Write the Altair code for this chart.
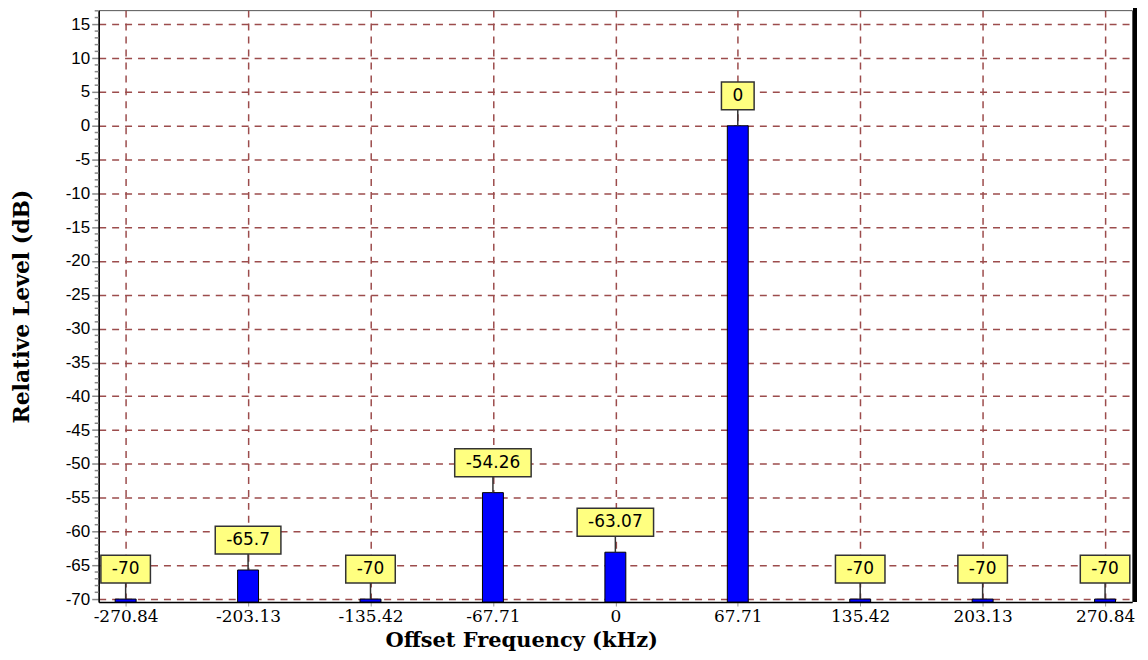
import altair as alt
import pandas as pd

# ---- data ----
freqs = [-270.84, -203.13, -135.42, -67.71, 0, 67.71, 135.42, 203.13, 270.84]
levels = [-70, -65.7, -70, -54.26, -63.07, 0, -70, -70, -70]
labels = ["-70", "-65.7", "-70", "-54.26", "-63.07", "0", "-70", "-70", "-70"]
y_ticks = list(range(-70, 16, 5))
y_minor = [v for v in range(-70, 18) if v % 5 != 0]

X_DOMAIN = [-283, 283]
Y_DOMAIN = [-70.44, 17.1]
W, H = 1037, 594

df = pd.DataFrame({"freq": freqs, "level": levels, "label": labels})
minor_df = pd.DataFrame({"level": y_minor})

GRID = "#9c4c4c"
SERIF = "DejaVu Serif"

x_scale = alt.Scale(domain=X_DOMAIN, nice=False, zero=False)
y_scale = alt.Scale(domain=Y_DOMAIN, nice=False, zero=False)

x_enc = alt.X(
    "freq:Q",
    scale=x_scale,
    axis=alt.Axis(
        values=freqs,
        labelExpr="toString(datum.value)",
        title="Offset Frequency (kHz)",
        titleFont=SERIF, titleFontSize=21, titleFontWeight="bold", titleColor="black",
        titleX=424, titleY=39, titleAlign="center", titleBaseline="middle",
        labelFont=SERIF, labelFontSize=17, labelColor="black", labelPadding=3,
        tickSize=4, tickColor="#999", domainColor="black", domainWidth=1.5,
        grid=True, gridColor=GRID, gridDash=[7, 6], gridWidth=1.5,
        labelFlush=False, labelOverlap=False,
    ),
)
y_enc = alt.Y(
    "level:Q",
    scale=y_scale,
    axis=alt.Axis(
        values=y_ticks,
        labelExpr="toString(datum.value)",
        title="Relative Level (dB)",
        titleFont=SERIF, titleFontSize=22, titleFontWeight="bold", titleColor="black",
        titleX=-77, titleY=297, titleAngle=270, titleAlign="center", titleBaseline="middle",
        labelFont="Liberation Sans", labelFontSize=17, labelColor="black", labelPadding=2,
        tickSize=7, tickColor="#888", tickWidth=1.5, domainColor="black", domainWidth=1.5,
        grid=True, gridColor=GRID, gridDash=[7, 6], gridWidth=1.5,
        labelOverlap=False, labelFlush=False,
    ),
)

base = alt.Chart(df)

bars = base.mark_bar(size=21, color="#0000ff", stroke="black", strokeWidth=1).encode(
    y2=alt.datum(Y_DOMAIN[0])
)

connector = base.mark_rule(color="#333", strokeWidth=1.5, y2Offset=-16).encode(
    y2="level:Q"
)

boxes = (
    base.transform_calculate(
        bw="22 + 10.8*length(replace(datum.label, regexp('[^0-9]', 'g'), ''))"
        " + (indexof(datum.label, '-') >= 0 ? 6.1 : 0)"
        " + (indexof(datum.label, '.') >= 0 ? 5.4 : 0)"
    )
    .mark_rect(
        fill="#ffff80", stroke="#333", strokeWidth=1.5,
        yOffset=-44, y2Offset=-16,
        xOffset=alt.expr("-datum.bw/2"), x2Offset=alt.expr("datum.bw/2"),
    )
    .encode(x2="freq:Q", y2="level:Q")
)

texts = base.mark_text(
    font="DejaVu Sans", fontSize=17, color="black", dy=-30, baseline="middle", align="center"
).encode(text="label:N")

minor = alt.Chart(minor_df).mark_rule(color="#888", strokeWidth=1.5).encode(
    x=alt.value(-4), x2=alt.value(0)
)

frame = alt.Chart(df).mark_rule(color="black", strokeWidth=3).encode(
    x=alt.value(W + 3), y=alt.value(-2), y2=alt.value(H)
)

chart = (
    alt.layer(bars, connector, boxes, texts, minor, frame)
    .encode(x=x_enc, y=y_enc)
    .properties(
        width=W, height=H,
        padding={"left": 91, "top": 1, "right": 8, "bottom": 49},
        autosize=alt.AutoSizeParams(type="none"),
        background="white",
    )
    .configure_view(stroke="#555", strokeWidth=1)
)

chart.save("out.html", embed_options={"renderer": "svg", "actions": False})
